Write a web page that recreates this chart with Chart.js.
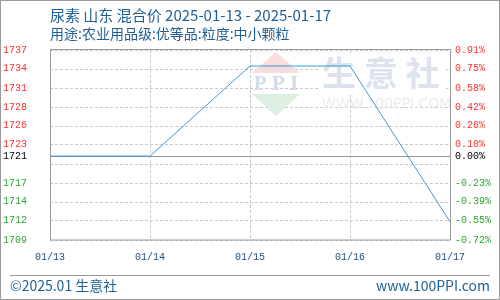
<!DOCTYPE html>
<html>
<head>
<meta charset="utf-8">
<script src="https://cdn.jsdelivr.net/npm/chart.js@4/dist/chart.umd.min.js"></script>
<style>
  html, body { margin: 0; padding: 0; background: #fff; }
  #wrap { width: 500px; height: 300px; }
</style>
</head>
<body>
<div id="wrap"><canvas id="priceChart" width="500" height="300"></canvas></div>
<script>
// ---- data ----
var dates = ['01/13', '01/14', '01/15', '01/16', '01/17'];
var prices = [1721, 1721, 1734.3, 1734.3, 1711.3];
var basePrice = 1721;

// gridline positions as % change from the base price, top to bottom
var tickPct = [0.91, 0.75, 0.58, 0.42, 0.26, 0.10, 0.00, -0.07, -0.23, -0.39, -0.55, -0.72];
var leftLabels = ['1737', '1734', '1731', '1728', '1726', '1723', '1721', '', '1717', '1714', '1712', '1709'];
var rightLabels = ['0.91%', '0.75%', '0.58%', '0.42%', '0.26%', '0.10%', '0.00%', '', '-0.23%', '-0.39%', '-0.55%', '-0.72%'];

var titleText = '尿素 山东 混合价 2025-01-13 - 2025-01-17';
var subTitleText = '用途:农业用品级:优等品:粒度:中小颗粒';
var footLeft = '©2025.01 生意社';
var footRight = 'www.100PPI.com';

var BLUE_TEXT = '#1f5f94';
var CJK = '"Noto Sans CJK SC", "Noto Sans", sans-serif';
var MONO = { family: '"Liberation Mono", monospace', size: 10 };

function pctToPrice(p) {
    return basePrice * (1 + p / 100);
}

function labelColor(ctx) {
    var p = tickPct[ctx.index];
    if (p > 0) return '#ff3030';
    if (p < 0) return '#2fa52f';
    return '#000000';
}

function setTicks(scale) {
    scale.ticks = tickPct.map(function (p) { return { value: pctToPrice(p) }; });
}

var decorPlugin = {
    id: 'decor',
    beforeDraw: function (chart) {
        var c = chart.ctx;
        c.save();
        c.fillStyle = '#ffffff';
        c.fillRect(0, 0, chart.width, chart.height);
        c.restore();
    },
    beforeDatasetsDraw: function (chart) {
        var c = chart.ctx;
        var a = chart.chartArea;
        var ys = chart.scales.y;
        var xs = chart.scales.x;
        c.save();

        // dashed grid, taken from the scales' own ticks
        c.strokeStyle = '#c8c8c8';
        c.lineWidth = 1;
        c.setLineDash([3, 2]);
        c.beginPath();
        ys.ticks.forEach(function (t) {
            var py = Math.round(ys.getPixelForValue(t.value)) + 0.5;
            c.moveTo(a.left, py);
            c.lineTo(a.right, py);
        });
        xs.ticks.forEach(function (t, i) {
            var px = Math.round(xs.getPixelForTick(i)) + 0.5;
            c.moveTo(px, a.top);
            c.lineTo(px, a.bottom);
        });
        c.stroke();
        c.setLineDash([]);

        // watermark logo
        c.fillStyle = '#f9dcdc';
        c.beginPath();
        c.moveTo(276, 52); c.lineTo(300, 73); c.lineTo(252, 73); c.closePath();
        c.fill();
        c.fillStyle = '#dcefe0';
        c.beginPath();
        c.moveTo(252, 94); c.lineTo(300, 94); c.lineTo(276, 116); c.closePath();
        c.fill();
        c.fillStyle = '#d3dbe8';
        c.font = 'bold 21px "Liberation Serif", serif';
        c.textAlign = 'center';
        c.textBaseline = 'middle';
        c.fillText('P P I', 276, 85);

        // watermark name
        c.fillStyle = '#ffffff';
        c.fillRect(318, 54, 128, 40);
        c.fillStyle = '#dde3ed';
        c.font = 'bold 34px ' + CJK;
        c.textAlign = 'left';
        c.fillText('生 意 社', 322, 73);
        c.fillStyle = '#ebebeb';
        c.font = '14px "DejaVu Sans", sans-serif';
        c.fillText('WWW.100PPI.COM', 322, 104);

        // base price line
        var y0 = Math.round(ys.getPixelForValue(basePrice)) + 0.5;
        c.strokeStyle = '#9a9a9a';
        c.beginPath();
        c.moveTo(a.left, y0);
        c.lineTo(a.right, y0);
        c.stroke();
        c.restore();
    },
    afterDraw: function (chart) {
        var c = chart.ctx;
        var a = chart.chartArea;
        c.save();
        c.strokeStyle = '#9a9a9a';
        c.lineWidth = 1;
        c.strokeRect(Math.round(a.left) + 0.5, Math.round(a.top) - 0.5,
            Math.round(a.right - a.left), Math.round(a.bottom - a.top) + 0.5);

        // titles
        c.fillStyle = BLUE_TEXT;
        c.textBaseline = 'middle';
        c.textAlign = 'left';
        c.font = '15px ' + CJK;
        c.fillText(titleText, 50, 15);
        c.font = '14px ' + CJK;
        c.fillText(subTitleText, 50, 34);

        // footer
        c.beginPath();
        c.moveTo(10, 275.5);
        c.lineTo(490, 275.5);
        c.stroke();
        c.font = '14px ' + CJK;
        c.fillText(footLeft, 10, 286);
        c.textAlign = 'right';
        c.fillText(footRight, 490, 286);

        // outer frame
        c.strokeRect(0.5, 0.5, chart.width - 1, chart.height - 1);
        c.restore();
    }
};

var ctx = document.getElementById('priceChart').getContext('2d');
new Chart(ctx, {
    type: 'line',
    data: {
        labels: dates,
        datasets: [{
            data: prices,
            borderColor: '#3a9ad9',
            borderWidth: 1,
            pointRadius: 0,
            tension: 0,
            fill: false
        }]
    },
    options: {
        responsive: false,
        animation: false,
        devicePixelRatio: 1,
        layout: { padding: { top: 50, left: 0, right: 0, bottom: 0 } },
        plugins: {
            legend: { display: false },
            tooltip: { enabled: false }
        },
        scales: {
            x: {
                offset: false,
                afterFit: function (s) { s.height = 60; },
                border: { display: false },
                grid: { display: false, drawTicks: false, tickLength: 0 },
                ticks: {
                    color: '#1a4f7f',
                    padding: 11,
                    maxRotation: 0,
                    autoSkip: false,
                    font: MONO
                }
            },
            y: {
                position: 'left',
                min: pctToPrice(-0.72),
                max: pctToPrice(0.91),
                afterBuildTicks: setTicks,
                afterFit: function (s) { s.width = 50; },
                border: { display: false },
                grid: { display: false, drawTicks: false, tickLength: 0 },
                ticks: {
                    color: labelColor,
                    padding: 23,
                    font: MONO,
                    callback: function (v, i) { return leftLabels[i]; }
                }
            },
            y2: {
                position: 'right',
                min: pctToPrice(-0.72),
                max: pctToPrice(0.91),
                afterBuildTicks: setTicks,
                afterFit: function (s) { s.width = 50; },
                border: { display: false },
                grid: { display: false, drawTicks: false, tickLength: 0 },
                ticks: {
                    color: labelColor,
                    padding: 5,
                    font: MONO,
                    callback: function (v, i) { return rightLabels[i]; }
                }
            }
        }
    },
    plugins: [decorPlugin]
});
</script>
</body>
</html>
